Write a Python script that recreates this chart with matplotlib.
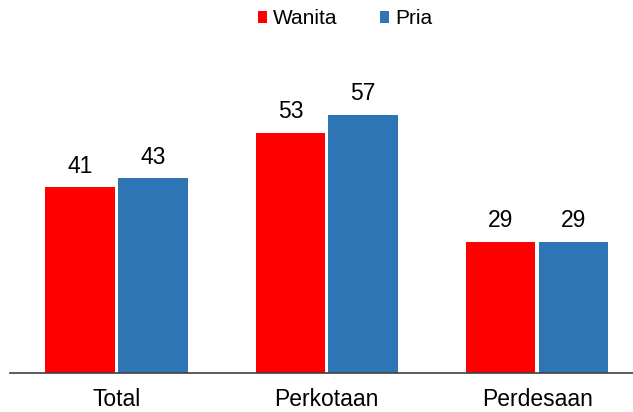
import matplotlib
matplotlib.use("Agg")
import matplotlib.pyplot as plt
import numpy as np

categories = ["Total", "Perkotaan", "Perdesaan"]
wanita = [41, 53, 29]
pria = [43, 57, 29]
series_names = ["Wanita", "Pria"]
colors = ["#FF0000", "#2E75B6"]

plt.rcParams['font.family'] = ['Liberation Sans', 'DejaVu Sans']

fig = plt.figure(figsize=(6.33, 4.12), dpi=100)
ax = fig.add_axes([10/633, 39/412, 623/633, 333/412])

x = np.arange(len(categories))
w = 0.33
gap = 0.008
b1 = ax.bar(x - w/2 - gap, wanita, w, color=colors[0], label=series_names[0])
b2 = ax.bar(x + w/2 + gap, pria, w, color=colors[1], label=series_names[1])

for bars, vals in ((b1, wanita), (b2, pria)):
    for r, v in zip(bars, vals):
        ax.annotate(str(v), (r.get_x() + r.get_width()/2, r.get_height()),
                    xytext=(0, 7), textcoords="offset points",
                    ha="center", va="bottom", fontsize=16.5, color="#000000")

ax.set_xlim(-0.506, 2.456)
ax.set_ylim(0, 73.6)
ax.set_yticks([])
ax.set_xticks(x)
ax.set_xticklabels(categories, fontsize=16.5)
ax.tick_params(axis='x', length=0, pad=11)
for s in ["top", "right", "left"]:
    ax.spines[s].set_visible(False)
ax.spines["bottom"].set_color("#404040")
ax.spines["bottom"].set_linewidth(1.2)

fig.legend(handles=[b1, b2], labels=series_names, loc="center",
           bbox_to_anchor=(345/633, 1 - 19/412), ncol=2, frameon=False,
           fontsize=15, handlelength=0.45, handleheight=0.45, handletextpad=0.3,
           columnspacing=2.0)

fig.savefig("out.png", dpi=100)
